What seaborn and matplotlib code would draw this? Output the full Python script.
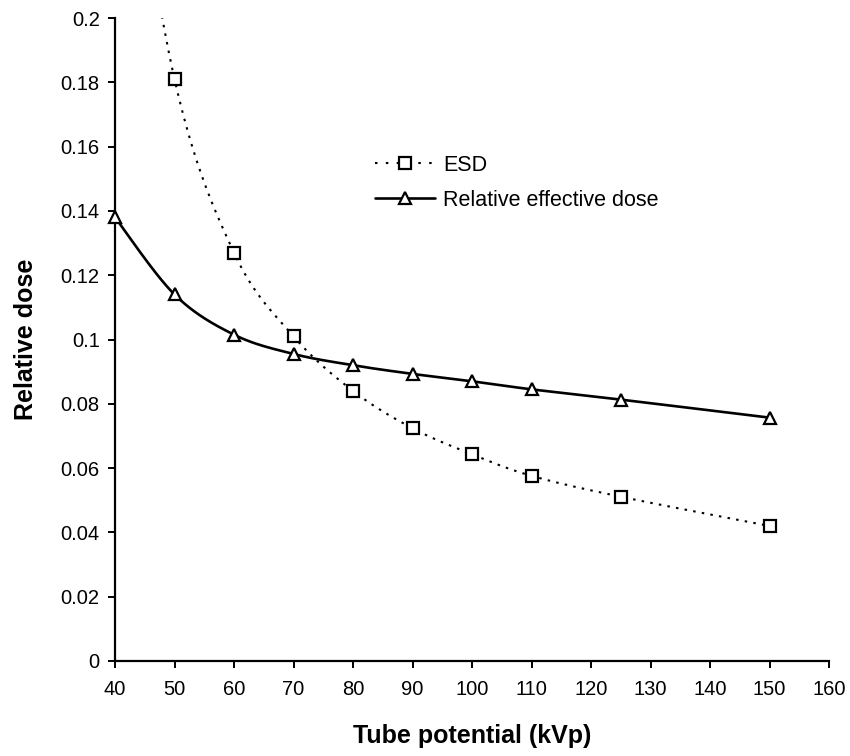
import numpy as np
import matplotlib
matplotlib.use("Agg")
import matplotlib.pyplot as plt
from matplotlib.lines import Line2D
from matplotlib.ticker import FuncFormatter
import seaborn as sns

# Data
kvp = [40, 50, 60, 70, 80, 90, 100, 110, 125, 150]
esd = [0.29, 0.181, 0.127, 0.101, 0.084, 0.0724, 0.0643, 0.0576, 0.0511, 0.042]
eff_dose = [0.138, 0.114, 0.1015, 0.0955, 0.092, 0.0893, 0.087, 0.0845, 0.0813, 0.0757]
x_ticks = [40, 50, 60, 70, 80, 90, 100, 110, 120, 130, 140, 150, 160]
y_ticks = [0, 0.02, 0.04, 0.06, 0.08, 0.1, 0.12, 0.14, 0.16, 0.18, 0.2]


def smooth(xs, ys, n=40):
    """Excel-style smoothed line (Catmull-Rom Bezier through the points)."""
    P = np.column_stack([xs, ys]).astype(float)
    m = len(P)
    out = []
    for i in range(m - 1):
        p0 = P[i - 1] if i > 0 else P[i]
        p1, p2 = P[i], P[i + 1]
        p3 = P[i + 2] if i + 2 < m else P[i + 1]
        c1 = p1 + (p2 - p0) / 6.0
        c2 = p2 - (p3 - p1) / 6.0
        t = np.linspace(0, 1, n)[:, None]
        seg = ((1 - t) ** 3) * p1 + 3 * ((1 - t) ** 2) * t * c1 + 3 * (1 - t) * t ** 2 * c2 + t ** 3 * p2
        out.append(seg if i == 0 else seg[1:])
    s = np.vstack(out)
    return s[:, 0], s[:, 1]


sns.set_style("ticks")
plt.rcParams["font.family"] = ["Liberation Sans", "DejaVu Sans"]
plt.rcParams["text.color"] = "black"
plt.rcParams["axes.labelcolor"] = "black"
plt.rcParams["xtick.color"] = "black"
plt.rcParams["ytick.color"] = "black"

fig, ax = plt.subplots(figsize=(8.5, 7.56), dpi=100)
fig.subplots_adjust(left=115 / 850, right=829 / 850, top=1 - 18 / 756, bottom=1 - 661 / 756)

dotted = (0, (1.2, 3.0))
lw_dot = 1.5
lw_solid = 1.9
ms = 8.5

sx, sy = smooth(kvp, esd)
sns.lineplot(x=sx, y=sy, ax=ax, color="black", lw=lw_dot, sort=False, estimator=None)
ax.lines[-1].set_linestyle(dotted)
ex, ey = smooth(kvp, eff_dose)
sns.lineplot(x=ex, y=ey, ax=ax, color="black", lw=lw_solid, sort=False, estimator=None)

ax.plot(kvp, esd, linestyle="none", marker="s", ms=ms, mfc="white", mec="black", mew=1.6, zorder=5)
ax.plot(kvp, eff_dose, linestyle="none", marker="^", ms=ms + 0.5, mfc="white", mec="black", mew=1.6,
        zorder=6, clip_on=False)

ax.set_xlim(40, 160)
ax.set_ylim(0, 0.2)
ax.set_xticks(x_ticks)
ax.set_yticks(y_ticks)
ax.yaxis.set_major_formatter(FuncFormatter(lambda v, p: f"{v:g}"))

for s in ["top", "right"]:
    ax.spines[s].set_visible(False)
for s in ["left", "bottom"]:
    ax.spines[s].set_color("black")
    ax.spines[s].set_linewidth(1.6)
ax.tick_params(axis="both", direction="out", length=5, width=1.4, color="black",
               labelsize=14.5, labelcolor="black")
ax.tick_params(axis="x", pad=9)
ax.tick_params(axis="y", pad=6)

ax.set_xlabel("Tube potential (kVp)", fontsize=18, fontweight="bold", labelpad=18, color="black")
ax.set_ylabel("Relative dose", fontsize=18, fontweight="bold", labelpad=16, color="black")

handles = [
    Line2D([], [], color="black", lw=lw_dot, linestyle=(0, (1.2, 4.0)), marker="s", ms=ms, mfc="white", mec="black", mew=1.6),
    Line2D([], [], color="black", lw=lw_solid, marker="^", ms=ms + 0.5, mfc="white", mec="black", mew=1.6),
]
fig.legend(handles, ["ESD", "Relative effective dose"], loc="upper left",
           bbox_to_anchor=(375 / 850, 1 - 155 / 756), frameon=False, fontsize=15.5,
           handlelength=2.8, handletextpad=0.35, labelspacing=0.65, borderpad=0, borderaxespad=0)

fig.savefig("out.png", dpi=100, facecolor="white")
